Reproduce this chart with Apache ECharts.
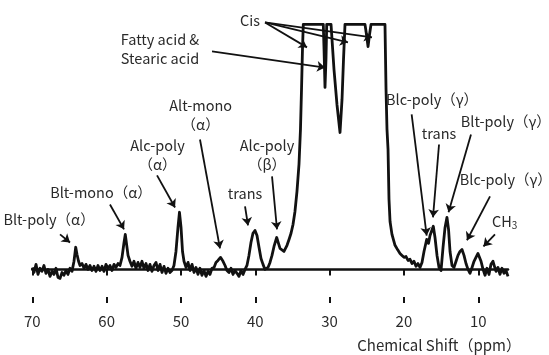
<!DOCTYPE html>
<html>
<head>
<meta charset="utf-8">
<script src="https://cdn.jsdelivr.net/npm/echarts@6/dist/echarts.min.js"></script>
<style>
  html, body { margin: 0; padding: 0; background: #fff; }
  #chart { width: 549px; height: 355px; }
</style>
</head>
<body>
<div id="chart"></div>
<script>
// 13C NMR spectrum: chemical shift (ppm) and relative intensity (the main CH2 band is clipped)
const shift = [
  70.0, 69.77, 69.50, 69.23, 68.96, 68.70, 68.43, 68.16, 67.89, 67.62, 67.35, 67.08, 66.81, 66.54, 66.27, 66.00, 65.74, 65.47, 65.20, 64.93, 64.66,
  64.39, 64.16, 63.99, 63.78, 63.58, 63.31, 63.04, 62.78, 62.51, 62.24, 61.97, 61.70, 61.43, 61.16, 60.89, 60.62, 60.35, 60.09, 59.82, 59.55, 59.28, 59.01, 58.74, 58.47, 58.20,
  57.93, 57.66, 57.49, 57.33, 57.12, 56.86, 56.59, 56.32, 56.05, 55.78, 55.51, 55.24, 54.97, 54.70, 54.43, 54.17, 53.90, 53.63, 53.36, 53.09, 52.82, 52.55, 52.28, 52.01, 51.74, 51.48, 51.21, 50.94,
  50.67, 50.40, 50.20, 49.99, 49.79, 49.59, 49.32, 49.05, 48.78, 48.51, 48.24, 47.98, 47.71, 47.44, 47.17, 46.90, 46.63, 46.36, 46.09, 45.82, 45.55, 45.29, 45.02, 44.68, 44.34, 44.07, 43.81, 43.54, 43.27, 43.00, 42.73, 42.46, 42.19, 41.92, 41.65, 41.38, 41.12,
  40.85, 40.58, 40.31, 40.04, 39.77, 39.50, 39.23, 38.96, 38.69, 38.46, 38.29, 38.02, 37.75, 37.48, 37.12, 36.88, 36.67, 36.41, 36.14, 35.93, 35.73, 35.46, 35.19, 34.92, 34.66, 34.39, 34.12, 33.92, 33.78, 33.65,
  33.54, 30.85, 30.75, 30.62, 30.49, 30.39, 29.81, 29.41, 29.01, 28.60, 28.33, 28.13, 27.93, 25.24, 25.04, 24.83, 24.63, 24.43, 22.55,
  22.41, 22.28, 22.14, 22.01, 21.87, 21.61, 21.20, 20.80, 20.53, 20.26, 19.99, 19.72, 19.45, 19.18, 18.92, 18.65, 18.38, 18.11, 17.84, 17.57,
  17.30, 16.94, 16.69, 16.49, 16.05, 15.82, 15.55, 15.28, 15.01, 14.74, 14.47, 14.21, 14.00, 13.80, 13.53, 13.26, 12.99, 12.73, 12.46, 12.19,
  11.92, 11.65, 11.38, 11.11, 10.84, 10.57, 10.31, 10.04, 9.83, 9.63, 9.36, 9.09, 8.83, 8.56, 8.29, 8.02, 7.82, 7.61, 7.35, 7.08, 6.81, 6.54, 6.27, 6.00
];
const intensity = [
  0.7, -1.1, 1.8, -1.8, 0.4, -0.7, 1.4, -1.4, 0, -2.5, -0.7, -1.8, 0.4, -2.9, -3.2, -1.1, -2.1, -0.4, -1.8, 0.4, -0.7,
  2.9, 7.9, 5.4, 2.9, 1.4, 2.1, 0.4, 1.8, 0, 1.4, -0.4, 1.1, -0.7, 1.4, -0.4, 1.1, -0.7, 1.8, 0.4, 1.4, -0.4, 1.8, 0.7, 2.1, 1.4,
  4.3, 9.6, 12.5, 9.3, 5.0, 2.9, 1.1, 2.9, 0.4, 2.5, 0.7, 2.9, 0.4, 2.1, -0.4, 1.8, -0.7, 1.4, 2.5, -0.4, 1.8, -1.1, 1.1, -1.4, 0.4, -1.1, -0.4, 1.4,
  6.4, 15.0, 20.4, 15.0, 6.4, 2.9, 0.7, 2.5, -0.4, 1.8, -1.1, 0.7, -1.8, 0.4, -2.1, -0.4, -2.5, -0.7, -1.8, 0.4, 0.7, 2.5, 3.2, 4.3, 2.9, 1.4, -0.4, -1.1, 0.4, -1.8, -0.4, -1.4, -2.5, -0.4, -1.8, 0, 1.4,
  5.0, 9.6, 12.9, 13.9, 12.1, 7.9, 3.9, 1.8, 0, -0.7, 0.7, 2.5, 5.0, 8.2, 11.4, 9.3, 7.5, 8.2, 6.4, 7.1, 8.6, 10.7, 12.9, 16.1, 20.7, 27.9, 37.5, 50.0, 64.3, 78.6,
  87.5, 87.5, 78.6, 65.0, 75.0, 87.5, 87.5, 71.4, 58.9, 48.9, 60.7, 75.0, 87.5, 87.5, 83.9, 79.6, 83.9, 87.5, 87.5,
  64.3, 50.0, 42.9, 25.0, 17.1, 12.5, 8.6, 6.8, 5.7, 5.0, 4.3, 4.6, 3.2, 3.6, 2.1, 2.9, 1.1, 2.1, 0.7, 2.5,
  6.4, 10.7, 9.3, 12.1, 15.4, 11.4, 5.0, 0.7, -0.4, 7.9, 15.0, 18.6, 14.3, 6.4, 1.4, 0.7, 2.9, 5.0, 6.4, 7.1,
  5.0, 2.1, 0, -1.4, 0.7, 2.9, 4.3, 5.7, 6.4, 2.9, 0, -2.1, 0.4, -1.8, 1.8, 2.9, 1.1, -0.7, 0.7, -1.8, 0.4, -1.4, -0.4, -2.5
];

// Axis tick labels (ppm)
const tickValues = [70, 60, 50, 40, 30, 20, 10];

// Peak assignments: label text and its anchor [ppm, intensity]
const labelText = [
  'Cis', 'Fatty acid &\nStearic acid', 'Alt-mono\n（α）', 'Alc-poly\n（α）', 'Blt-mono（α）', 'Blt-poly（α）',
  'trans', 'Alc-poly\n（β）', 'Blc-poly（γ）', 'trans', 'Blt-poly（γ）', 'Blc-poly（γ）', '{m|CH}{s|3}'
];
const labelAt = [
  [40.71, 88.9], [52.82, 78.8], [47.35, 55.3], [53.15, 40.9], [60.76, 27.5], [67.75, 17.9],
  [41.38, 27.1], [38.42, 40.7], [16.22, 60.7], [15.28, 48.6], [6.30, 52.9], [6.30, 32.1], [6.45, 17.1]
];

// Leader arrows: tail and head [ppm, intensity]
const arrowTail = [
  [38.69, 88.2], [38.69, 88.2], [38.69, 88.2], [45.82, 77.9], [47.44, 46.4], [53.22, 33.6], [59.55, 23.2],
  [66.27, 12.5], [41.38, 22.5], [37.75, 33.2], [18.96, 55.4], [15.28, 44.6], [10.98, 48.2], [8.42, 26.1], [7.75, 12.5]
];
const arrowHead = [
  [33.04, 79.3], [27.53, 81.1], [24.30, 82.9], [30.62, 72.1], [44.75, 7.5], [50.80, 22.1], [57.66, 14.3],
  [64.93, 9.6], [40.98, 15.7], [37.08, 14.3], [16.94, 12.1], [16.09, 18.6], [14.00, 20.4], [11.52, 10.4], [9.30, 8.2]
];

const FONT = "'Noto Sans CJK JP', 'Noto Sans', sans-serif";
const INK = '#111';
const TEXT = '#2a2a2a';

const chart = echarts.init(document.getElementById('chart'), null, { renderer: 'canvas' });

const tickStyle = { color: INK, width: 2 };

chart.setOption({
  animation: false,
  backgroundColor: '#fff',
  grid: { left: 32.3, right: 41, top: 17.4, bottom: 52 },
  xAxis: [
    {
      type: 'value', inverse: true, min: 6, max: 70,
      axisLine: { show: true, lineStyle: { color: INK, width: 2.5 } },
      axisTick: { show: true, customValues: tickValues, length: 6, lineStyle: tickStyle },
      axisLabel: { show: true, customValues: tickValues, margin: 11, color: TEXT, fontSize: 15, fontFamily: FONT },
      splitLine: { show: false }
    },
    {
      type: 'value', inverse: true, min: 6, max: 70, position: 'bottom', offset: 0,
      axisLine: { show: false },
      axisTick: { show: true, inside: true, customValues: tickValues, length: 6, lineStyle: tickStyle },
      axisLabel: { show: false },
      splitLine: { show: false }
    }
  ],
  yAxis: { type: 'value', min: -12, max: 90, show: false },
  graphic: [{
    type: 'text', right: 28, top: 338,
    style: { text: 'Chemical Shift（ppm）', fill: TEXT, font: '15px ' + FONT }
  }],
  series: [{
    type: 'line',
    xAxisIndex: 0,
    data: shift.map((s, i) => [s, intensity[i]]),
    symbol: 'none',
    clip: false,
    lineStyle: { color: INK, width: 2.8, join: 'round' },
    silent: true,
    markLine: {
      silent: true,
      symbol: ['none', 'arrow'],
      symbolSize: 8,
      label: { show: false },
      lineStyle: { color: INK, width: 1.8, type: 'solid' },
      emphasis: { disabled: true },
      data: arrowTail.map((t, i) => [{ coord: t }, { coord: arrowHead[i] }])
    },
    markPoint: {
      silent: true,
      symbol: 'circle',
      symbolSize: 0,
      itemStyle: { color: 'transparent' },
      label: {
        show: true, position: 'inside', color: TEXT, fontSize: 14.5, fontFamily: FONT,
        lineHeight: 19, align: 'center',
        formatter: p => p.name,
        rich: {
          m: { fontSize: 14.5, fontFamily: FONT, color: TEXT },
          s: { fontSize: 10, fontFamily: FONT, color: TEXT, padding: [7, 0, 0, 0] }
        }
      },
      data: labelText.map((t, i) => ({ name: t, coord: labelAt[i] }))
    }
  }]
});
</script>
</body>
</html>
